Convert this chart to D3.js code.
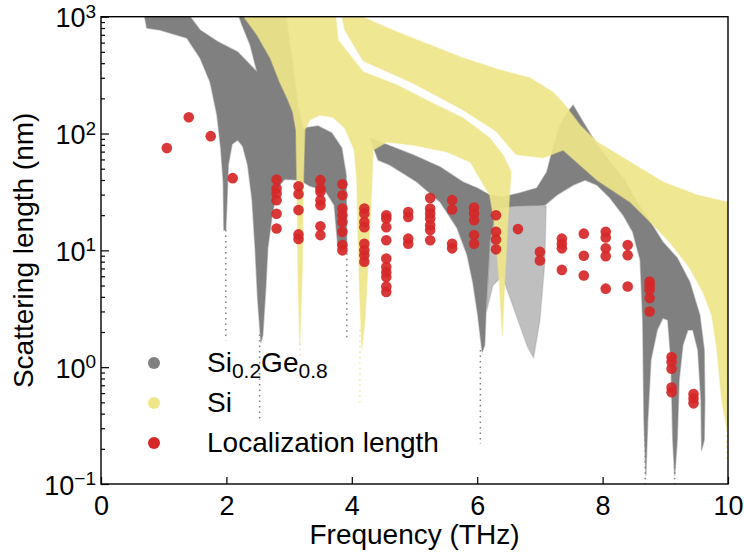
<!DOCTYPE html>
<html>
<head>
<meta charset="utf-8">
<script src="https://cdn.jsdelivr.net/npm/d3@7/dist/d3.min.js"></script>
<style>
  body { margin: 0; background: #fff; }
  svg { display: block; font-family: "Liberation Sans", Arial, Helvetica, sans-serif; }
</style>
</head>
<body>
<div id="chart"></div>
<script>
'use strict';

// Outlines of the Si0.2Ge0.8 cloud, [frequency THz, scattering length nm]
var sigeLobeA = [[0.67,1200],[1.31,1200],[1.58,769],[1.87,607],[2.18,499],[2.49,336],[2.38,572],[2.25,849],
  [2.15,1200],[2.93,1200],[3.05,426],[3.14,175],[3.22,111],[3.46,116],[3.68,101],[3.84,75],[3.91,44],
  [3.92,10.5],[3.78,10.5],[3.72,24.4],[3.57,32.8],[3.33,35.6],[3.17,40],[2.93,40.7],[2.81,34.1],[2.73,20],
  [2.66,10.5],[2.63,5.05],[2.58,1.88],[2.55,1.64],[2.50,3.75],[2.46,10.1],[2.41,27],[2.34,53.7],[2.26,78],
  [2.18,88],[2.09,81],[2.03,53.7],[2.01,27],[1.99,14.9],[1.96,14.9],[1.95,38.5],[1.91,75],[1.85,144],
  [1.74,276],[1.58,443],[1.37,657],[0.94,769],[0.73,800]];

var sigeLobeB = [[4.29,91.4],[4.98,65.5],[5.41,51.6],[5.77,38.5],[6.00,34.1],[6.20,29.7],[6.41,28.6],
  [6.68,31],[6.95,34.1],[7.11,46.8],[7.21,75],[7.32,118],[7.43,150],[7.53,175],[7.69,125],[7.91,79.8],
  [8.12,57],[8.33,41.6],[8.55,25.9],[8.76,17.5],[8.96,11.8],[9.19,8.6],[9.39,5.36],[9.55,2.79],[9.62,1.40],
  [9.63,0.52],[9.62,0.238],[9.58,0.195],[9.57,0.52],[9.52,1.40],[9.44,2.08],[9.36,2.08],[9.28,1.55],
  [9.22,0.776],[9.19,0.238],[9.15,0.119],[9.12,0.238],[9.09,1.15],[9.04,2.53],[8.96,2.63],[8.87,2.08],
  [8.77,1.15],[8.72,0.352],[8.69,0.119],[8.66,0.352],[8.64,2.53],[8.60,8.26],[8.48,14.4],[8.33,20],
  [8.12,28.1],[7.91,36.2],[7.72,40],[7.53,36.2],[7.27,29.7],[7.08,24.4],[6.6,24],[6.3,23],[6.2,12],
  [6.14,3],[6.12,1.55],[6.08,1.35],[6.01,2.79],[5.93,5.36],
  [5.84,9.12],[5.68,15.5],[5.41,25.9],[5.04,38.5],[4.61,53.7],[4.42,59.3]];

// Sparse part of the SiGe cloud between the 6.1 THz dip and the hump
var sigeSparse = [[6.2,26],[6.6,26],[7.1,24],[7.08,8],[7.0,2.5],[6.9,1.2],[6.8,1.5],[6.6,3],[6.4,6],
  [6.25,5],[6.15,3],[6.2,12]];

// Outlines of the Si cloud
var siLower = [[2.17,1200],[3.73,1200],[3.78,632],[4.18,336],[4.72,260],[5.25,186],[5.77,136],[6.20,91.4],
  [6.41,65.5],[6.54,46.8],[6.49,18.2],[6.44,5.57],[6.40,1.88],[6.35,5.57],[6.28,16.5],[6.20,29.7],
  [6.04,41.6],[5.89,57],[5.52,69.5],[4.98,79.8],[4.56,84.6],[4.34,72.3],[4.31,27],[4.26,8.26],[4.21,2.53],
  [4.16,1.46],[4.13,3.75],[4.10,12.2],[4.08,40],[4.04,72.3],[3.89,111],[3.70,138],[3.49,144],[3.33,131],
  [3.25,107],[3.22,27],[3.21,6.78],[3.17,1.55],[3.14,6.78],[3.13,27],[3.11,107],[3.06,153],[2.97,201],
  [2.85,276],[2.70,443],[2.49,697]];

var siUpper = [[3.81,1200],[4.72,740],[5.77,443],[6.36,350],[6.84,299],[7.21,226],[7.40,175],[7.64,118],
  [7.91,84.6],[8.44,57],[8.96,38.5],[9.51,29.7],[10.05,25.4],[10.05,0.6],[9.98,0.3],[9.90,0.52],
  [9.82,1.46],[9.74,2.79],[9.60,4.40],[9.39,7.05],[9.07,11.8],[8.76,17.5],[8.44,25.9],[7.91,40],
  [7.37,72.3],[7.05,62],[6.62,66],[6.30,105],[5.77,160],[4.98,270],[4.18,420],[3.89,769]];

// Sparse vertical trails below the dense clouds: [frequency, from, to]
var sigeTrails = [[1.99,14.9,1.7],[3.92,10.5,1.7],[2.53,1.9,0.36],[6.05,1.4,0.22],[8.68,0.3,0.1],[9.15,0.3,0.1]];
var siTrails = [[4.13,2.1,0.46],[3.17,1.6,1.2],[9.98,0.5,0.16]];

// Localization length: one column of values per frequency
var locFreq = [1.05, 1.4, 1.75, 2.1, 2.8, 3.15, 3.5, 3.85, 4.2, 4.55, 4.9, 5.25, 5.6, 5.95, 6.3,
  6.65, 7.0, 7.35, 7.7, 8.05, 8.4, 8.75, 9.1, 9.45];
var locLength = [
  [75], [138], [95], [41.5],
  [40.4, 33.9, 30.7, 26.9, 20.6, 15.4],
  [35.4, 30.3, 22.1, 13.7, 12.5],
  [39.9, 33.9, 31.7, 26.9, 24.3, 16.1, 13.5],
  [36.8, 29.6, 22.8, 20.0, 17.5, 14.4, 11.1, 10.0],
  [22.8, 20.7, 17.5, 15.8, 11.4, 10.0, 9.1, 8.0],
  [20.0, 18.7, 15.8, 12.2, 8.5, 7.2, 6.5, 5.9, 4.9, 4.4],
  [21.3, 19.3, 12.6, 11.4],
  [28.1, 22.8, 20.7, 18.7, 16.4, 14.9, 12.2],
  [26.9, 22.4, 11.4, 10.4],
  [23.3, 20.7, 18.1, 13.5, 11.4],
  [20.0, 14.4, 12.4, 10.2],
  [15.2],
  [9.7, 8.2],
  [12.6, 11.4, 10.4, 6.8],
  [13.9, 9.0, 6.1],
  [14.4, 12.9, 10.4, 8.9, 4.7],
  [11.1, 9.1, 4.9],
  [5.4, 5.0, 4.6, 3.9, 3.0],
  [1.22, 1.11, 0.97, 0.67, 0.61],
  [0.59, 0.54, 0.49]
];

var xTicks = [0, 2, 4, 6, 8, 10];
var yTicks = [0.1, 1, 10, 100, 1000];
var legendNames = ['Si0.2Ge0.8', 'Si', 'Localization length'];

(function () {
  var width = 744, height = 557;
  var mLeft = 101, mRight = 728, mTop = 16.7, mBottom = 484;
  var grey = '#808080', khaki = '#efe58a', red = '#d62728';

  var x = d3.scaleLinear().domain([0, 10]).range([mLeft, mRight]);
  var y = d3.scaleLog().domain([0.1, 1000]).range([mBottom, mTop]);

  var svg = d3.select('#chart').append('svg')
    .attr('width', width)
    .attr('height', height);

  svg.append('rect').attr('width', width).attr('height', height).attr('fill', '#fff');

  svg.append('clipPath').attr('id', 'plot')
    .append('rect')
    .attr('x', mLeft).attr('y', mTop)
    .attr('width', mRight - mLeft).attr('height', mBottom - mTop);

  var plot = svg.append('g').attr('clip-path', 'url(#plot)');

  var outline = d3.line()
    .x(function (d) { return x(d[0]); })
    .y(function (d) { return y(d[1]); })
    .curve(d3.curveLinearClosed);

  // Clouds: SiGe first, Si drawn over it
  function cloud(data, color, opacity) {
    plot.append('path')
      .attr('d', outline(data))
      .attr('fill', color)
      .attr('fill-opacity', opacity)
      .attr('stroke', color)
      .attr('stroke-opacity', 0.45 * opacity)
      .attr('stroke-width', 1.5)
      .attr('stroke-linejoin', 'round');
  }

  function trails(data, color) {
    plot.selectAll(null).data(data).enter().append('line')
      .attr('x1', function (d) { return x(d[0]); })
      .attr('x2', function (d) { return x(d[0]); })
      .attr('y1', function (d) { return y(d[1]); })
      .attr('y2', function (d) { return y(d[2]); })
      .attr('stroke', color)
      .attr('stroke-width', 1.5)
      .attr('stroke-dasharray', '1.5,4');
  }

  cloud(sigeLobeA, grey, 1);
  cloud(sigeLobeB, grey, 1);
  cloud(sigeSparse, grey, 0.5);
  trails(sigeTrails, grey);
  cloud(siLower, khaki, 0.92);
  cloud(siUpper, khaki, 0.92);
  trails(siTrails, khaki);

  // Localization length points
  var points = [];
  locFreq.forEach(function (f, i) {
    locLength[i].forEach(function (v) { points.push([f, v]); });
  });

  plot.selectAll('.loc').data(points).enter().append('circle')
    .attr('class', 'loc')
    .attr('cx', function (d) { return x(d[0]); })
    .attr('cy', function (d) { return y(d[1]); })
    .attr('r', 5.3)
    .attr('fill', red)
    .attr('fill-opacity', 0.92);

  // Axes
  var xAxis = svg.append('g')
    .attr('transform', 'translate(0,' + mBottom + ')')
    .call(d3.axisBottom(x).tickValues(xTicks).tickSizeInner(-7).tickSizeOuter(0).tickPadding(12)
      .tickFormat(d3.format('d')));

  var yAxis = svg.append('g')
    .attr('transform', 'translate(' + mLeft + ',0)')
    .call(d3.axisLeft(y).tickValues(yTicks).tickSizeInner(-8).tickSizeOuter(0).tickPadding(5));

  var minor = [];
  yTicks.slice(0, -1).forEach(function (t) {
    for (var k = 2; k < 10; k++) { minor.push(t * k); }
  });

  svg.append('g')
    .attr('transform', 'translate(' + mLeft + ',0)')
    .call(d3.axisLeft(y).tickValues(minor).tickSizeInner(-4).tickSizeOuter(0).tickFormat(''));

  svg.selectAll('.domain').remove();
  svg.selectAll('.tick line').attr('stroke', '#000').attr('stroke-width', 1.2);

  xAxis.selectAll('text')
    .attr('fill', '#000')
    .style('font-size', '27px');

  yAxis.selectAll('text')
    .attr('fill', '#000')
    .style('font-size', '27px')
    .attr('dy', '0.37em')
    .each(function (d) {
      var e = Math.round(Math.log10(d));
      var t = d3.select(this).text('');
      t.append('tspan').text('10');
      t.append('tspan')
        .attr('dy', '-0.5em')
        .style('font-size', '19px')
        .text(e < 0 ? '\u2212' + (-e) : String(e));
    });

  // Frame
  svg.append('rect')
    .attr('x', mLeft).attr('y', mTop)
    .attr('width', mRight - mLeft).attr('height', mBottom - mTop)
    .attr('fill', 'none')
    .attr('stroke', '#000')
    .attr('stroke-width', 1.4);

  // Axis labels
  svg.append('text')
    .attr('x', (mLeft + mRight) / 2)
    .attr('y', 544)
    .attr('text-anchor', 'middle')
    .style('font-size', '28px')
    .text('Frequency (THz)');

  svg.append('text')
    .attr('transform', 'translate(33,' + (mTop + mBottom) / 2 + ') rotate(-90)')
    .attr('text-anchor', 'middle')
    .style('font-size', '28px')
    .text('Scattering length (nm)');

  // Legend
  var legend = svg.append('g');
  var legendColors = [grey, khaki, red];

  legendNames.forEach(function (name, i) {
    var cy = 363 + 40 * i;
    legend.append('circle')
      .attr('cx', 154).attr('cy', cy).attr('r', 6)
      .attr('fill', legendColors[i]);

    var t = legend.append('text')
      .attr('x', 207).attr('y', cy + 9)
      .style('font-size', '28px');

    if (i === 0) {
      t.append('tspan').text('Si');
      t.append('tspan').attr('dy', 6).style('font-size', '21px').text('0.2');
      t.append('tspan').attr('dy', -6).text('Ge');
      t.append('tspan').attr('dy', 6).style('font-size', '21px').text('0.8');
    } else {
      t.text(name);
    }
  });
})();
</script>
</body>
</html>
